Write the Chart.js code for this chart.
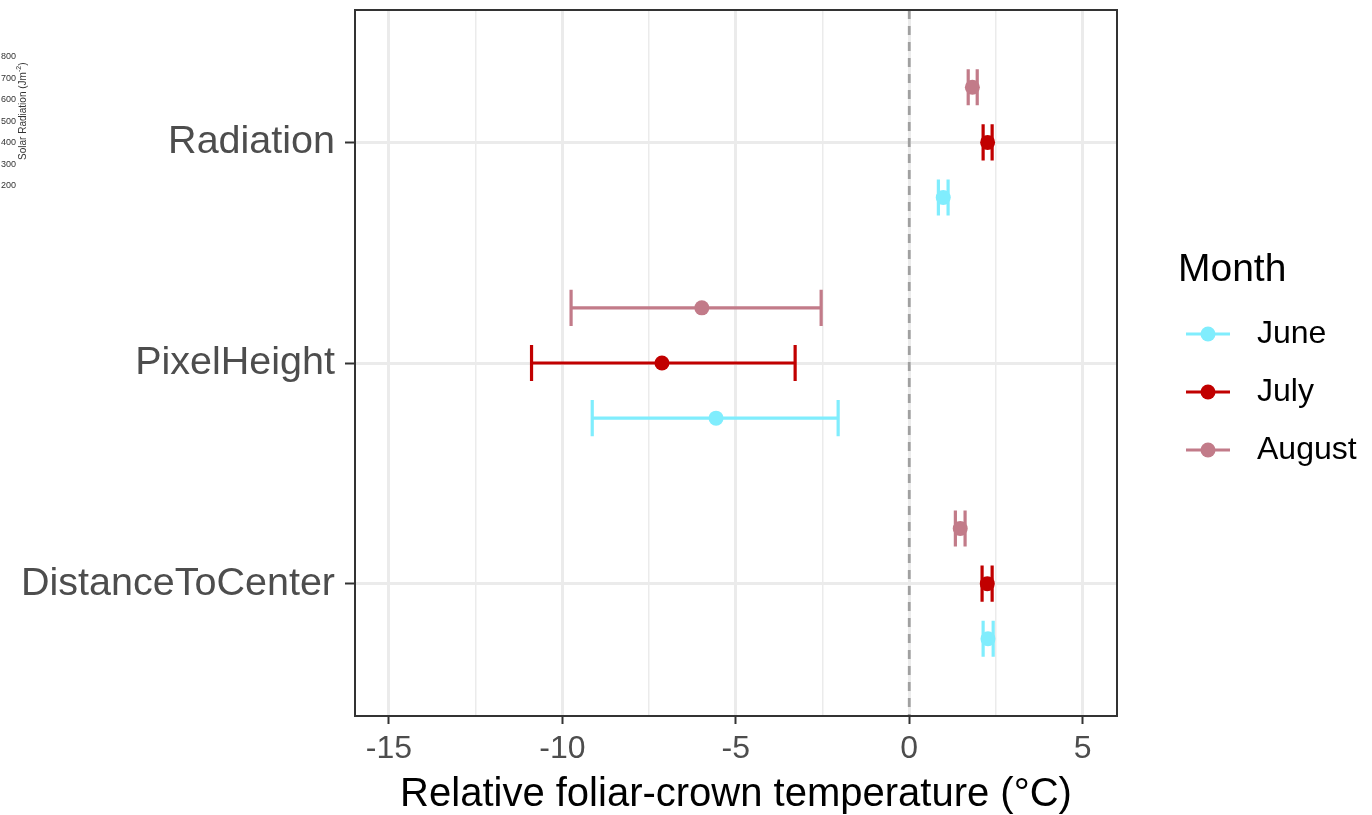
<!DOCTYPE html>
<html>
<head>
<meta charset="utf-8">
<script src="https://cdn.jsdelivr.net/npm/chart.js@4.4.1/dist/chart.umd.min.js"></script>
<style>
  html, body { margin: 0; padding: 0; background: #ffffff; }
  #wrap { width: 1372px; height: 815px; position: relative; }
</style>
</head>
<body>
<div id="wrap"><canvas id="c" width="1372" height="815"></canvas></div>
<script>
// Predictors, bottom to top on the y axis
const categories = ['DistanceToCenter', 'PixelHeight', 'Radiation'];
const months = ['June', 'July', 'August'];
const monthColors = ['#80EDFD', '#C10000', '#C27B89'];
const monthOffsets = [-0.25, 0, 0.25];

// Estimates with lower / upper interval bounds (°C), one entry per predictor
const juneMean = [2.27, -5.57, 0.98];
const juneLow  = [2.13, -9.14, 0.84];
const juneHigh = [2.42, -2.05, 1.12];

const julyMean = [2.25, -7.13, 2.26];
const julyLow  = [2.10, -10.89, 2.13];
const julyHigh = [2.39, -3.29, 2.39];

const augMean = [1.47, -5.98, 1.82];
const augLow  = [1.33, -9.75, 1.70];
const augHigh = [1.61, -2.54, 1.96];

const xTicks = [-15, -12.5, -10, -7.5, -5, -2.5, 0, 2.5, 5];
const xMajor = [-15, -10, -5, 0, 5];

// Side panel scale labels
const sideTicks = ['800', '700', '600', '500', '400', '300', '200'];

const means = [juneMean, julyMean, augMean];
const lows = [juneLow, julyLow, augLow];
const highs = [juneHigh, julyHigh, augHigh];

const datasets = months.map((m, i) => ({
  label: m,
  data: categories.map((c, k) => ({
    x: means[i][k], y: k + 1 + monthOffsets[i],
    xMin: lows[i][k], xMax: highs[i][k]
  })),
  backgroundColor: monthColors[i],
  borderColor: monthColors[i],
  pointRadius: 7.5,
  pointHoverRadius: 7.5,
  pointBorderWidth: 0,
  showLine: false
}));

const FONT = '"Liberation Sans", Arial, Helvetica, sans-serif';

const errorBars = {
  id: 'errorBars',
  beforeDatasetsDraw(chart) {
    const { ctx, chartArea, scales } = chart;
    const xs = scales.x, ys = scales.y;
    ctx.save();
    // zero reference line
    ctx.strokeStyle = '#A0A0A0';
    ctx.lineWidth = 2.8;
    ctx.setLineDash([9, 7]);
    const x0 = xs.getPixelForValue(0);
    ctx.beginPath();
    ctx.moveTo(x0, chartArea.top);
    ctx.lineTo(x0, chartArea.bottom);
    ctx.stroke();
    ctx.setLineDash([]);
    // interval whiskers
    const capHalf = 0.082;
    chart.data.datasets.forEach(ds => {
      ctx.strokeStyle = ds.borderColor;
      ctx.lineWidth = 3.2;
      ds.data.forEach(p => {
        const xa = xs.getPixelForValue(p.xMin);
        const xb = xs.getPixelForValue(p.xMax);
        const yc = ys.getPixelForValue(p.y);
        const yt = ys.getPixelForValue(p.y + capHalf);
        const yb = ys.getPixelForValue(p.y - capHalf);
        ctx.beginPath();
        ctx.moveTo(xa, yc); ctx.lineTo(xb, yc);
        ctx.moveTo(xa, yt); ctx.lineTo(xa, yb);
        ctx.moveTo(xb, yt); ctx.lineTo(xb, yb);
        ctx.stroke();
      });
    });
    ctx.restore();
  }
};

const frameAndLegend = {
  id: 'frameAndLegend',
  afterDraw(chart) {
    const { ctx, chartArea } = chart;
    ctx.save();
    // panel frame
    ctx.strokeStyle = '#333333';
    ctx.lineWidth = 2;
    ctx.strokeRect(chartArea.left, chartArea.top,
      chartArea.right - chartArea.left, chartArea.bottom - chartArea.top);

    // x axis title
    ctx.fillStyle = '#000000';
    ctx.font = '40px ' + FONT;
    ctx.textAlign = 'center';
    ctx.textBaseline = 'middle';
    ctx.fillText('Relative foliar-crown temperature (°C)',
      (chartArea.left + chartArea.right) / 2, 795);

    // legend
    ctx.textAlign = 'left';
    ctx.font = '39px ' + FONT;
    ctx.fillText('Month', 1178, 270);
    ctx.font = '32px ' + FONT;
    months.forEach((m, i) => {
      const y = 334 + i * 58;
      ctx.strokeStyle = monthColors[i];
      ctx.lineWidth = 3.2;
      ctx.beginPath();
      ctx.moveTo(1186, y); ctx.lineTo(1230, y);
      ctx.stroke();
      ctx.fillStyle = monthColors[i];
      ctx.beginPath();
      ctx.arc(1208, y, 7.5, 0, Math.PI * 2);
      ctx.fill();
      ctx.fillStyle = '#000000';
      ctx.fillText(m, 1257, y);
    });

    // narrow side scale at the far left
    ctx.fillStyle = '#333333';
    ctx.font = '9px ' + FONT;
    ctx.textAlign = 'right';
    sideTicks.forEach((t, i) => {
      ctx.fillText(t, 16, 57 + i * 21.5);
    });
    ctx.translate(23, 112);
    ctx.rotate(-Math.PI / 2);
    ctx.textAlign = 'center';
    ctx.font = '10px ' + FONT;
    ctx.fillText('Solar Radiation (Jm', -4, 0);
    const w = ctx.measureText('Solar Radiation (Jm').width;
    ctx.font = '7px ' + FONT;
    ctx.textAlign = 'left';
    ctx.fillText('-2', -4 + w / 2, -4);
    const w2 = ctx.measureText('-2').width;
    ctx.font = '10px ' + FONT;
    ctx.fillText(')', -4 + w / 2 + w2, 0);
    ctx.restore();
  }
};

new Chart(document.getElementById('c'), {
  type: 'scatter',
  data: { datasets },
  options: {
    responsive: false,
    animation: false,
    events: [],
    layout: { padding: { left: 0, top: 10, right: 255, bottom: 0 } },
    plugins: { legend: { display: false }, tooltip: { enabled: false } },
    scales: {
      x: {
        type: 'linear',
        min: -15.98, max: 5.99,
        afterBuildTicks: s => { s.ticks = xTicks.map(v => ({ value: v })); },
        afterFit: s => { s.height = 99; s.paddingLeft = 0; s.paddingRight = 0; },
        border: { display: false },
        grid: {
          color: '#EBEBEB',
          lineWidth: c => (c.tick && xMajor.includes(c.tick.value)) ? 3 : 1.5,
          tickColor: c => (c.tick && xMajor.includes(c.tick.value)) ? '#333333' : 'rgba(0,0,0,0)',
          tickLength: 8,
          tickWidth: 2
        },
        ticks: {
          autoSkip: false,
          maxRotation: 0,
          padding: 6,
          color: '#4D4D4D',
          font: { family: FONT, size: 32 },
          callback: v => xMajor.includes(v) ? String(v) : ''
        }
      },
      y: {
        type: 'linear',
        min: 0.4, max: 3.6,
        afterBuildTicks: s => { s.ticks = categories.map((c, i) => ({ value: i + 1 })); },
        afterFit: s => { s.width = 355; s.paddingTop = 0; s.paddingBottom = 0; },
        border: { display: false },
        grid: {
          color: '#EBEBEB',
          lineWidth: 3,
          tickColor: '#333333',
          tickLength: 10,
          tickWidth: 2
        },
        ticks: {
          autoSkip: false,
          padding: 10,
          color: '#4D4D4D',
          font: { family: FONT, size: 39.5 },
          callback: v => categories[Math.round(v) - 1]
        }
      }
    }
  },
  plugins: [errorBars, frameAndLegend]
});
</script>
</body>
</html>
